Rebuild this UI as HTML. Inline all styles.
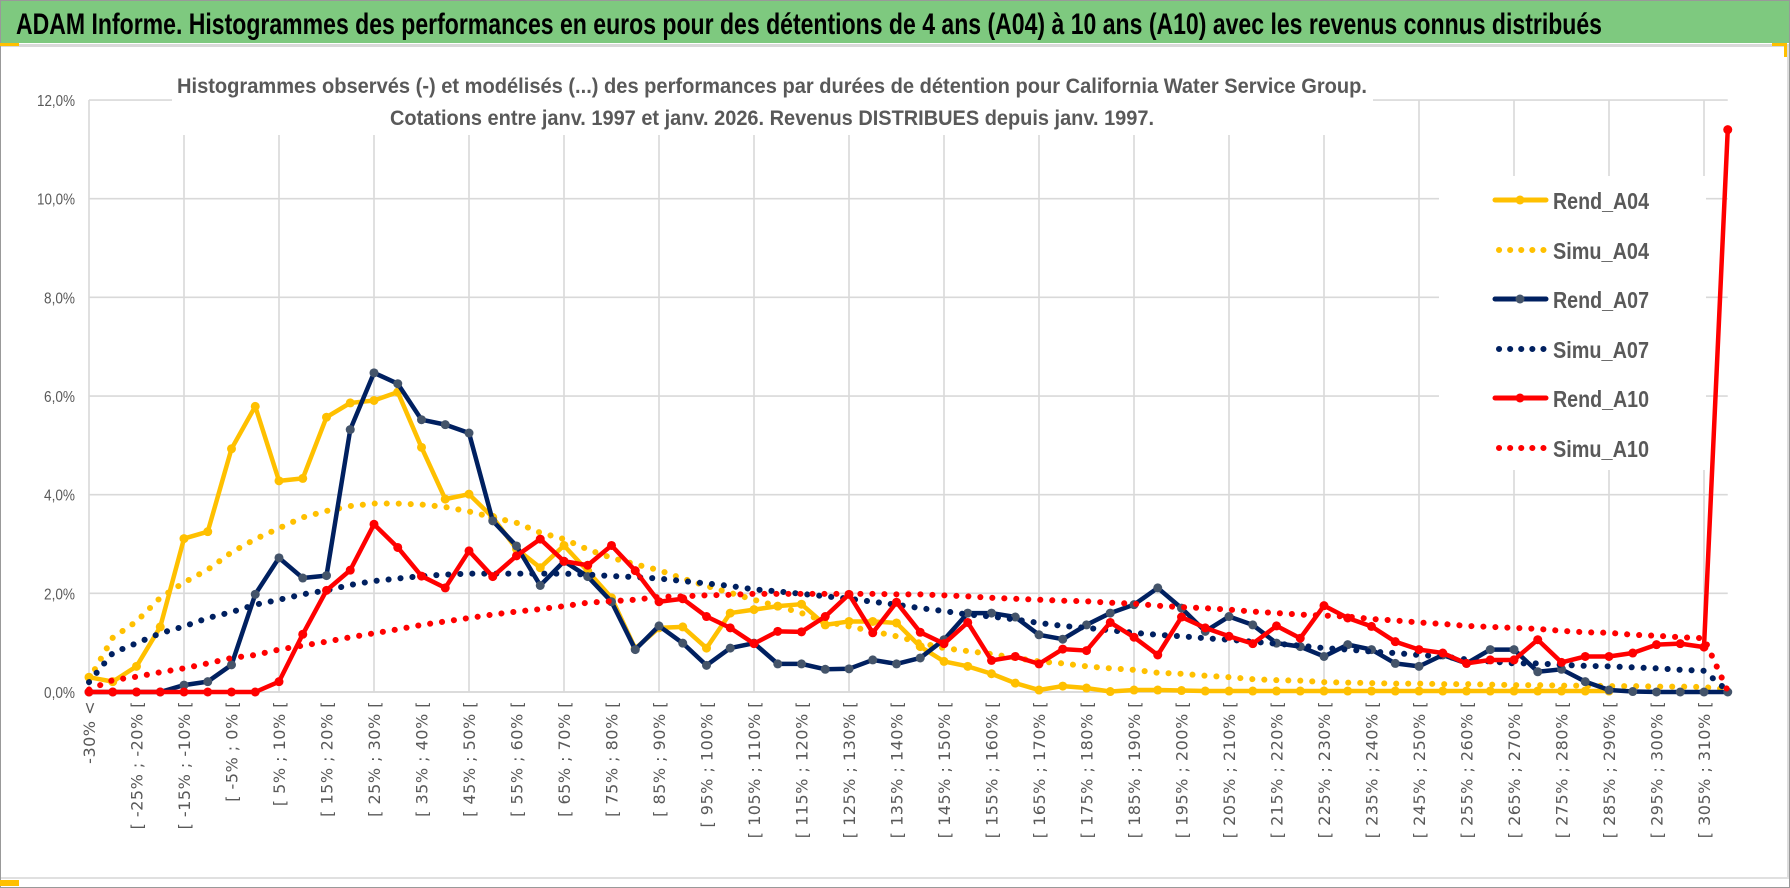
<!DOCTYPE html>
<html><head><meta charset="utf-8"><style>
html,body{margin:0;padding:0;background:#fff;}
svg{display:block;font-family:"Liberation Sans",sans-serif;}
</style></head><body>
<svg id="chart" width="1790" height="888" viewBox="0 0 1790 888" xmlns="http://www.w3.org/2000/svg">
<rect x="0.5" y="0.5" width="1789" height="887" fill="#fff" stroke="#999"/>
<rect x="1" y="1" width="1788" height="42" fill="#7EC97F"/>
<text x="16" y="34" font-size="30" font-weight="bold" fill="#000" textLength="1586" lengthAdjust="spacingAndGlyphs">ADAM Informe. Histogrammes des performances en euros pour des détentions de 4 ans (A04) à 10 ans (A10) avec les revenus connus distribués</text>
<rect x="1" y="44" width="1788" height="3" fill="#d9d9d9"/>
<rect x="0" y="43" width="19" height="3" fill="#FFC000"/>
<rect x="1772" y="43" width="15" height="3" fill="#FFC000"/>
<rect x="1784" y="43" width="3" height="14" fill="#FFC000"/>
<rect x="1" y="877" width="1788" height="2" fill="#e0e0e0"/>
<rect x="0" y="880" width="19" height="6" fill="#FFC000"/>
<line x1="1788" y1="47" x2="1788" y2="877" stroke="#bbb"/>
<g id="grid"></g>
<rect x="172" y="60" width="1201" height="75" fill="#fff"/>
<text x="772" y="93" text-anchor="middle" font-size="21" font-weight="bold" fill="#595959" textLength="1190" lengthAdjust="spacingAndGlyphs">Histogrammes observés (-) et modélisés (...) des performances par durées de détention pour California Water Service Group.</text>
<text x="772" y="125" text-anchor="middle" font-size="21" font-weight="bold" fill="#595959" textLength="764" lengthAdjust="spacingAndGlyphs">Cotations entre janv. 1997 et janv. 2026. Revenus DISTRIBUES depuis janv. 1997.</text>
<g id="yaxis"></g>
<g id="xaxis"></g>
<rect x="1439" y="176" width="267" height="294" fill="#fff"/>
<g id="series"></g>
<g id="legend"></g>
</svg>
<script>
const categories = [];
for (let i = 0; i < 70; i++) {
  if (i === 0) categories.push("-30% <");
  else { const lo = -35 + 5 * i; categories.push("[ " + lo + "% ; " + (lo + 5) + "% ["); }
}
const yTicks = [0, 2, 4, 6, 8, 10, 12];
const yTickLabels = ["0,0%", "2,0%", "4,0%", "6,0%", "8,0%", "10,0%", "12,0%"];
const seriesNames = ["Rend_A04", "Simu_A04", "Rend_A07", "Simu_A07", "Rend_A10", "Simu_A10"];
const rendA04 = [0.30,0.21,0.52,1.32,3.11,3.25,4.93,5.79,4.28,4.33,5.57,5.86,5.91,6.08,4.96,3.91,4.01,3.54,2.90,2.52,2.97,2.45,1.91,0.88,1.30,1.32,0.89,1.60,1.67,1.74,1.78,1.36,1.43,1.43,1.40,0.92,0.62,0.52,0.37,0.18,0.04,0.12,0.08,0.01,0.04,0.04,0.03,0.02,0.02,0.02,0.02,0.02,0.02,0.02,0.02,0.02,0.02,0.02,0.02,0.02,0.02,0.02,0.02,0.02,0.02,null,null,null,null,null];
const simuA04 = [0.25,1.10,1.43,1.91,2.22,2.48,2.83,3.10,3.32,3.54,3.67,3.77,3.82,3.82,3.80,3.75,3.66,3.54,3.43,3.23,3.10,2.89,2.72,2.59,2.47,2.30,2.15,2.01,1.87,1.74,1.60,1.43,1.33,1.23,1.13,1.00,0.89,0.83,0.77,0.69,0.62,0.58,0.52,0.48,0.45,0.39,0.37,0.33,0.30,0.26,0.24,0.23,0.20,0.19,0.18,0.17,0.17,0.16,0.16,0.15,0.14,0.14,0.13,0.13,0.12,0.12,0.11,0.11,0.10,0.05];
const rendA07 = [0,0,0,0,0.14,0.21,0.55,1.98,2.72,2.31,2.36,5.32,6.47,6.25,5.52,5.42,5.25,3.47,2.96,2.16,2.65,2.34,1.83,0.86,1.34,0.99,0.54,0.89,0.99,0.57,0.57,0.46,0.47,0.65,0.57,0.69,1.06,1.60,1.60,1.52,1.16,1.07,1.36,1.60,1.77,2.11,1.70,1.23,1.53,1.36,0.99,0.92,0.72,0.96,0.86,0.58,0.52,0.75,0.58,0.86,0.86,0.41,0.46,0.21,0.04,0.01,0,0,0,0];
const simuA07 = [0.20,0.79,0.99,1.19,1.33,1.50,1.62,1.77,1.87,1.98,2.06,2.17,2.25,2.30,2.35,2.38,2.40,2.40,2.40,2.40,2.40,2.38,2.35,2.33,2.30,2.25,2.20,2.15,2.08,2.04,1.99,1.94,1.89,1.83,1.77,1.70,1.64,1.57,1.53,1.47,1.40,1.34,1.30,1.25,1.20,1.16,1.13,1.09,1.06,1.02,0.98,0.94,0.89,0.86,0.82,0.79,0.75,0.72,0.66,0.62,0.58,0.58,0.55,0.53,0.52,0.50,0.48,0.45,0.43,0.02];
const rendA10 = [0,0,0,0,0,0,0,0,0.21,1.17,2.06,2.47,3.40,2.93,2.35,2.11,2.86,2.34,2.76,3.10,2.65,2.57,2.97,2.46,1.83,1.89,1.53,1.30,0.98,1.23,1.22,1.53,1.98,1.20,1.82,1.21,0.98,1.41,0.64,0.72,0.57,0.87,0.84,1.41,1.11,0.75,1.52,1.30,1.13,0.98,1.34,1.09,1.75,1.50,1.33,1.02,0.86,0.79,0.58,0.65,0.65,1.06,0.60,0.72,0.72,0.79,0.96,0.98,0.91,11.40];
const simuA10 = [0.05,0.24,0.31,0.40,0.48,0.58,0.69,0.75,0.86,0.94,1.02,1.11,1.19,1.27,1.36,1.43,1.50,1.57,1.63,1.68,1.74,1.81,1.84,1.87,1.93,1.94,1.96,1.97,1.99,1.99,1.99,1.99,1.99,1.99,1.98,1.98,1.96,1.94,1.91,1.89,1.87,1.85,1.84,1.81,1.79,1.75,1.72,1.70,1.67,1.63,1.60,1.57,1.55,1.53,1.48,1.45,1.41,1.38,1.34,1.32,1.30,1.28,1.24,1.21,1.20,1.16,1.14,1.11,1.09,0.02];

const NS = "http://www.w3.org/2000/svg";
const X0 = 89, STEP = 23.75, Y0 = 692, PER = 49.33;
function xPos(i) { return X0 + i * STEP; }
function yPos(v) { return Y0 - v * PER; }
function mk(tag, attrs, parent) {
  const e = document.createElementNS(NS, tag);
  for (const k in attrs) e.setAttribute(k, attrs[k]);
  parent.appendChild(e);
  return e;
}
const grid = document.getElementById("grid");
const yaxis = document.getElementById("yaxis");
const xaxis = document.getElementById("xaxis");
const seriesG = document.getElementById("series");
const legend = document.getElementById("legend");
const xEnd = xPos(categories.length - 1);

yTicks.forEach((t, k) => {
  const ln = mk("line", {x1: X0, x2: xEnd, y1: yPos(t), y2: yPos(t), stroke: t === 0 ? "#cfcfcf" : "#d9d9d9", "stroke-width": 1.6}, grid);
  
  
  const tx = mk("text", {x: 75, y: yPos(t) + 6, "text-anchor": "end", "font-size": 16, fill: "#595959", "textLength": yTickLabels[k].length > 4 ? 38 : 31, lengthAdjust: "spacingAndGlyphs"}, yaxis);
  tx.textContent = yTickLabels[k];
  
  
});
for (let i = 0; i < categories.length; i += 4) {
  const ln = mk("line", {x1: xPos(i), x2: xPos(i), y1: yPos(12), y2: Y0, stroke: "#d9d9d9", "stroke-width": 1.6}, grid);
  
  
}
categories.forEach((c, i) => {
  if (i % 2 !== 0) return;
  const x = xPos(i) + 6;
  const tx = mk("text", {x: 0, y: 0, transform: "translate(" + x + ",701) rotate(-90)", "text-anchor": "end", "font-size": 16, fill: "#595959", "font-family": "DejaVu Sans, sans-serif", "letter-spacing": "0.5"}, xaxis);
  tx.textContent = c;
  
  
});

function drawLine(vals, color, dotted, marker, name) {
  const g = mk("g", {}, seriesG);
  
  
  let d = "", started = false;
  vals.forEach((v, i) => {
    if (v === null) { started = false; return; }
    d += (started ? "L" : "M") + xPos(i).toFixed(2) + " " + yPos(v).toFixed(2) + " ";
    started = true;
  });
  const attrs = {d: d, fill: "none", stroke: color, "stroke-linejoin": "round"};
  if (dotted) { attrs["stroke-width"] = 6; attrs["stroke-dasharray"] = "0.1 11.9"; attrs["stroke-linecap"] = "round"; }
  else { attrs["stroke-width"] = 4.5; attrs["stroke-linecap"] = "round"; }
  const p = mk("path", attrs, g);
  
  
  if (marker) {
    vals.forEach((v, i) => {
      if (v === null) return;
      const c = mk("circle", {cx: xPos(i), cy: yPos(v), r: 4.5, fill: marker}, g);
      
      
    });
  }
}
drawLine(rendA04, "#FFC000", false, "#FFC000", "rend-a04");
drawLine(simuA04, "#FFC000", true, null, "simu-a04");
drawLine(rendA07, "#002060", false, "#44546A", "rend-a07");
drawLine(simuA07, "#002060", true, null, "simu-a07");
drawLine(rendA10, "#FF0000", false, "#FF0000", "rend-a10");
drawLine(simuA10, "#FF0000", true, null, "simu-a10");

const legColors = ["#FFC000", "#FFC000", "#002060", "#002060", "#FF0000", "#FF0000"];
const legMarkers = ["#FFC000", null, "#44546A", null, "#FF0000", null];
const legY = [200, 250, 299, 349, 398, 448];
seriesNames.forEach((n, k) => {
  const g = mk("g", {}, legend);
  
  
  const y = legY[k];
  if (k % 2 === 0) {
    mk("line", {x1: 1495, x2: 1546, y1: y, y2: y, stroke: legColors[k], "stroke-width": 5, "stroke-linecap": "round"}, g);
    mk("circle", {cx: 1520, cy: y, r: 4.5, fill: legMarkers[k]}, g);
  } else {
    mk("line", {x1: 1499, x2: 1545, y1: y, y2: y, stroke: legColors[k], "stroke-width": 6, "stroke-dasharray": "0.1 11", "stroke-linecap": "round"}, g);
  }
  const t = mk("text", {x: 1553, y: y + 9, "font-size": 23, "font-weight": "bold", fill: "#595959", textLength: 96, lengthAdjust: "spacingAndGlyphs"}, g);
  t.textContent = n;
  
  
});
</script>
</body></html>
